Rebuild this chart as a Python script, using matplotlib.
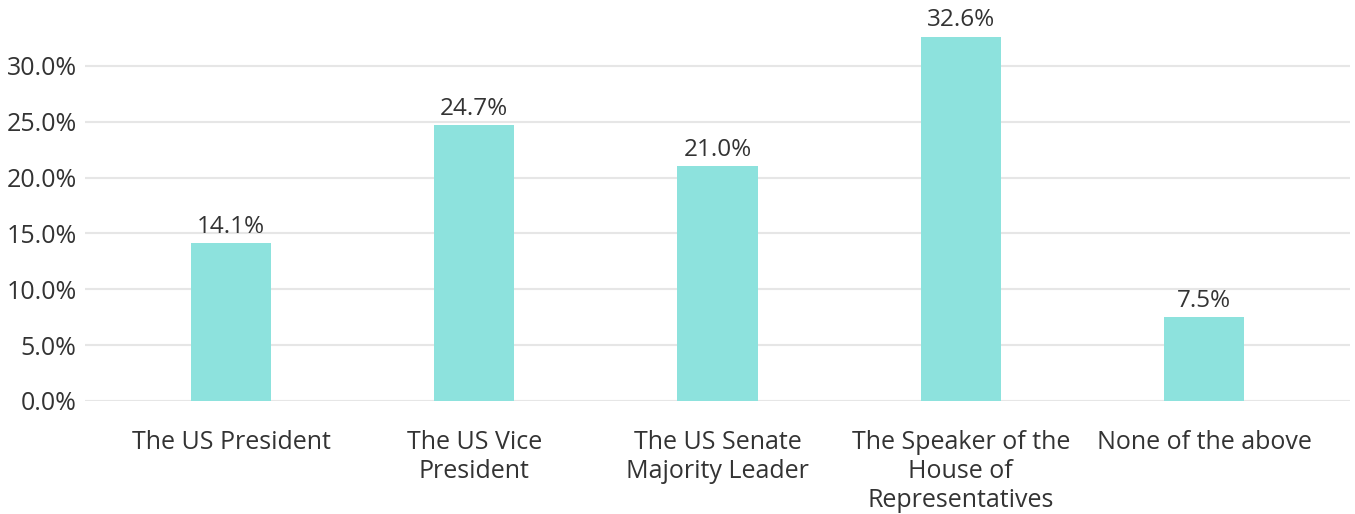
import matplotlib
matplotlib.use("Agg")
import matplotlib.pyplot as plt
from matplotlib.ticker import FuncFormatter

categories = ["The US President", "The US Vice\nPresident", "The US Senate\nMajority Leader",
              "The Speaker of the\nHouse of\nRepresentatives", "None of the above"]
values = [14.1, 24.7, 21.0, 32.6, 7.5]
yticks = [0, 5, 10, 15, 20, 25, 30]

plt.rcParams['font.family'] = ['Open Sans', 'DejaVu Sans']
text_color = "#333333"

fig = plt.figure(figsize=(13.55, 5.14), dpi=100)
ax = fig.add_axes([85/1355, (514-401)/514, (1350-85)/1355, (401-10)/514])

x = list(range(len(categories)))
bars = ax.bar(x, values, width=0.33, color="#8DE2DD", zorder=3)
for xi, v in zip(x, values):
    ax.text(xi, v + 0.4, f"{v:.1f}%", ha="center", va="bottom", fontsize=17.5, color=text_color)

ax.set_xlim(-0.6, 4.6)
ax.set_ylim(0, 35)
ax.set_yticks(yticks)
ax.yaxis.set_major_formatter(FuncFormatter(lambda v, p: f"{v:.1f}%"))
ax.set_xticks(x)
ax.set_xticklabels(categories, fontsize=18, color=text_color, linespacing=1.21)
ax.tick_params(axis="y", labelsize=18, labelcolor=text_color, length=0, pad=6)
ax.tick_params(axis="x", length=0, pad=21)
ax.grid(axis="y", color="#E6E6E6", linewidth=1.5, zorder=0)
for s in ax.spines.values():
    s.set_visible(False)

fig.savefig("out.png", dpi=100)
